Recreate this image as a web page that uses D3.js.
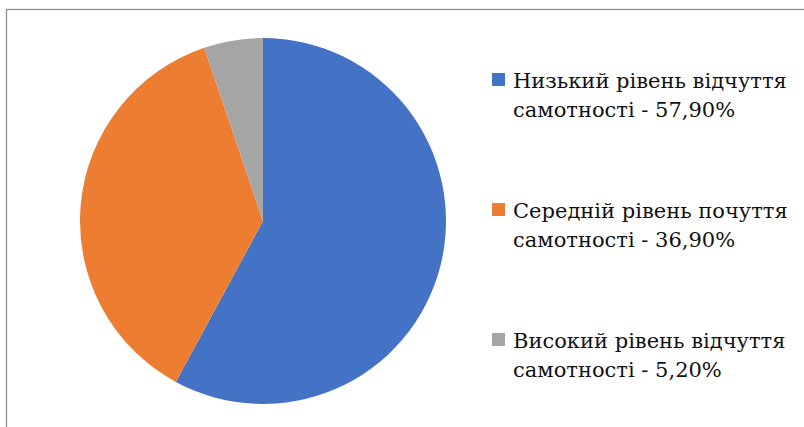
<!DOCTYPE html>
<html>
<head>
<meta charset="utf-8">
<script src="https://cdn.jsdelivr.net/npm/d3@7"></script>
<style>
  body { margin: 0; background: #fff; }
  svg { display: block; }
  .legend text { font-family: 'DejaVu Serif Condensed', 'DejaVu Serif', serif; }
</style>
</head>
<body>
<div id="chart"></div>
<script>
(function(d3) {
    'use strict';

    // Data
    var labels = ['Низький рівень відчуття', 'Середній рівень почуття', 'Високий рівень відчуття'];
    var labelTails = ['самотності - 57,90%', 'самотності - 36,90%', 'самотності - 5,20%'];
    var values = [57.9, 36.9, 5.2];
    var colors = ['#4472C4', '#ED7D31', '#A5A5A5'];

    var width = 804;
    var height = 427;
    var cx = 263, cy = 221, radius = 183;

    var svg = d3.select('#chart')
        .append('svg')
        .attr('width', width)
        .attr('height', height);

    // chart frame (clipped on right and bottom)
    svg.append('rect')
        .attr('x', 6.5)
        .attr('y', 9.5)
        .attr('width', 820)
        .attr('height', 440)
        .attr('fill', 'none')
        .attr('stroke', '#8c8c8c')
        .attr('stroke-width', 1.3);

    var dataset = values.map(function(v, i) {
        return { label: labels[i], tail: labelTails[i], value: v, color: colors[i] };
    });

    var pie = d3.pie()
        .value(function(d) { return d.value; })
        .sort(null);

    var arc = d3.arc()
        .innerRadius(0)
        .outerRadius(radius);

    svg.append('g')
        .attr('transform', 'translate(' + cx + ',' + cy + ')')
        .selectAll('path')
        .data(pie(dataset))
        .enter()
        .append('path')
        .attr('d', arc)
        .attr('fill', function(d) { return d.data.color; });

    // Legend
    var legendX = 492;
    var legendY = 88;
    var legendStep = 130;
    var lineGap = 29;
    var firstLineWidth = 274; // width of the first legend line in the reference

    var legend = svg.selectAll('.legend')
        .data(dataset)
        .enter()
        .append('g')
        .attr('class', 'legend')
        .attr('transform', function(d, i) {
            return 'translate(' + legendX + ',' + (legendY + i * legendStep) + ')';
        });

    legend.append('rect')
        .attr('x', 0)
        .attr('y', -15)
        .attr('width', 13)
        .attr('height', 13)
        .attr('fill', function(d) { return d.color; });

    var txt = legend.append('text')
        .attr('font-size', 20.5)
        .attr('fill', '#111');

    txt.append('tspan')
        .attr('class', 'l1')
        .attr('x', 0)
        .attr('y', 0)
        .text(function(d) { return d.label; });

    txt.append('tspan')
        .attr('x', 0)
        .attr('y', lineGap)
        .text(function(d) { return d.tail; });

    // squeeze the serif text horizontally to the reference's width
    var w = txt.filter(function(d, i) { return i === 0; })
        .select('.l1').node().getComputedTextLength();
    var sx = firstLineWidth / w;
    txt.attr('transform', 'translate(21,0) scale(' + sx + ',1)');

})(window.d3);
</script>
</body>
</html>
